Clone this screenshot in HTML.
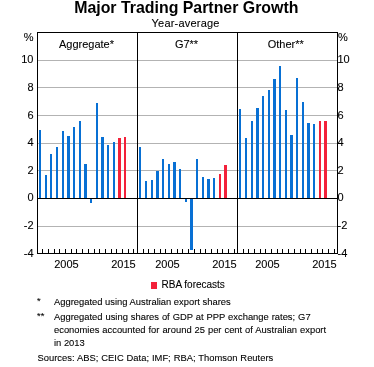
<!DOCTYPE html>
<html><head><meta charset="utf-8"><style>
html,body{margin:0;padding:0;background:#fff;width:374px;height:367px;overflow:hidden}
svg{position:absolute;left:0;top:0;display:block;will-change:transform}
text{font-family:"Liberation Sans", sans-serif;fill:#000}
text.r{stroke:#000;stroke-width:0.1px}
</style></head><body>
<svg width="374" height="367" viewBox="0 0 374 367">
<g shape-rendering="crispEdges">
<rect x="38.00" y="60.00" width="299.00" height="1.00" fill="#b3b3b3"/>
<rect x="38.00" y="87.00" width="299.00" height="1.00" fill="#b3b3b3"/>
<rect x="38.00" y="115.00" width="299.00" height="1.00" fill="#b3b3b3"/>
<rect x="38.00" y="143.00" width="299.00" height="1.00" fill="#b3b3b3"/>
<rect x="38.00" y="170.00" width="299.00" height="1.00" fill="#b3b3b3"/>
<rect x="38.00" y="226.00" width="299.00" height="1.00" fill="#b3b3b3"/>
<rect x="39.00" y="129.64" width="2.00" height="68.36" fill="#0870d4"/>
<rect x="45.00" y="174.90" width="2.00" height="23.10" fill="#0870d4"/>
<rect x="50.00" y="153.79" width="2.00" height="44.21" fill="#0870d4"/>
<rect x="56.00" y="147.03" width="2.00" height="50.97" fill="#0870d4"/>
<rect x="62.00" y="130.88" width="2.00" height="67.12" fill="#0870d4"/>
<rect x="67.00" y="135.85" width="3.00" height="62.15" fill="#0870d4"/>
<rect x="73.00" y="126.74" width="2.00" height="71.26" fill="#0870d4"/>
<rect x="79.00" y="120.67" width="2.00" height="77.33" fill="#0870d4"/>
<rect x="84.00" y="163.59" width="3.00" height="34.41" fill="#0870d4"/>
<rect x="90.00" y="199.00" width="2.00" height="3.92" fill="#0870d4"/>
<rect x="96.00" y="102.73" width="2.00" height="95.27" fill="#0870d4"/>
<rect x="101.00" y="136.81" width="3.00" height="61.19" fill="#0870d4"/>
<rect x="107.00" y="144.68" width="2.00" height="53.32" fill="#0870d4"/>
<rect x="113.00" y="141.92" width="2.00" height="56.08" fill="#0870d4"/>
<rect x="118.00" y="137.92" width="3.00" height="60.08" fill="#f3213a"/>
<rect x="124.00" y="136.81" width="2.00" height="61.19" fill="#f3213a"/>
<rect x="139.00" y="146.75" width="2.00" height="51.25" fill="#0870d4"/>
<rect x="145.00" y="180.84" width="2.00" height="17.16" fill="#0870d4"/>
<rect x="151.00" y="179.87" width="2.00" height="18.13" fill="#0870d4"/>
<rect x="156.00" y="170.90" width="3.00" height="27.10" fill="#0870d4"/>
<rect x="162.00" y="159.03" width="2.00" height="38.97" fill="#0870d4"/>
<rect x="168.00" y="164.00" width="2.00" height="34.00" fill="#0870d4"/>
<rect x="173.00" y="161.79" width="3.00" height="36.21" fill="#0870d4"/>
<rect x="179.00" y="168.97" width="2.00" height="29.03" fill="#0870d4"/>
<rect x="185.00" y="199.00" width="2.00" height="2.81" fill="#0870d4"/>
<rect x="190.00" y="199.00" width="3.00" height="50.84" fill="#0870d4"/>
<rect x="196.00" y="159.03" width="2.00" height="38.97" fill="#0870d4"/>
<rect x="202.00" y="176.83" width="2.00" height="21.17" fill="#0870d4"/>
<rect x="207.00" y="179.04" width="3.00" height="18.96" fill="#0870d4"/>
<rect x="213.00" y="177.94" width="2.00" height="20.06" fill="#0870d4"/>
<rect x="219.00" y="173.80" width="2.00" height="24.20" fill="#f3213a"/>
<rect x="224.00" y="164.97" width="3.00" height="33.03" fill="#f3213a"/>
<rect x="239.00" y="108.94" width="2.00" height="89.06" fill="#0870d4"/>
<rect x="245.00" y="138.06" width="2.00" height="59.94" fill="#0870d4"/>
<rect x="251.00" y="121.08" width="2.00" height="76.92" fill="#0870d4"/>
<rect x="256.00" y="108.11" width="3.00" height="89.89" fill="#0870d4"/>
<rect x="262.00" y="96.10" width="2.00" height="101.90" fill="#0870d4"/>
<rect x="268.00" y="90.03" width="2.00" height="107.97" fill="#0870d4"/>
<rect x="273.00" y="79.13" width="3.00" height="118.87" fill="#0870d4"/>
<rect x="279.00" y="66.02" width="2.00" height="131.98" fill="#0870d4"/>
<rect x="285.00" y="110.04" width="2.00" height="87.96" fill="#0870d4"/>
<rect x="290.00" y="135.16" width="3.00" height="62.84" fill="#0870d4"/>
<rect x="296.00" y="78.03" width="2.00" height="119.97" fill="#0870d4"/>
<rect x="302.00" y="102.04" width="2.00" height="95.96" fill="#0870d4"/>
<rect x="307.00" y="123.15" width="3.00" height="74.85" fill="#0870d4"/>
<rect x="313.00" y="124.12" width="2.00" height="73.88" fill="#0870d4"/>
<rect x="319.00" y="121.08" width="2.00" height="76.92" fill="#f3213a"/>
<rect x="324.00" y="121.08" width="3.00" height="76.92" fill="#f3213a"/>
<rect x="37.00" y="198.00" width="301.00" height="1.00" fill="#000"/>
<rect x="37.00" y="32.00" width="301.00" height="1.00" fill="#000"/>
<rect x="37.00" y="253.00" width="301.00" height="1.00" fill="#000"/>
<rect x="37.00" y="32.00" width="1.00" height="222.00" fill="#000"/>
<rect x="137.00" y="32.00" width="1.00" height="222.00" fill="#000"/>
<rect x="237.00" y="32.00" width="1.00" height="222.00" fill="#000"/>
<rect x="337.00" y="32.00" width="1.00" height="222.00" fill="#000"/>
<rect x="42.00" y="249.00" width="1.00" height="4.00" fill="#000"/>
<rect x="48.00" y="249.00" width="1.00" height="4.00" fill="#000"/>
<rect x="54.00" y="249.00" width="1.00" height="4.00" fill="#000"/>
<rect x="59.00" y="249.00" width="1.00" height="4.00" fill="#000"/>
<rect x="65.00" y="249.00" width="1.00" height="4.00" fill="#000"/>
<rect x="71.00" y="249.00" width="1.00" height="4.00" fill="#000"/>
<rect x="76.00" y="249.00" width="1.00" height="4.00" fill="#000"/>
<rect x="82.00" y="249.00" width="1.00" height="4.00" fill="#000"/>
<rect x="88.00" y="249.00" width="1.00" height="4.00" fill="#000"/>
<rect x="94.00" y="249.00" width="1.00" height="4.00" fill="#000"/>
<rect x="99.00" y="249.00" width="1.00" height="4.00" fill="#000"/>
<rect x="105.00" y="249.00" width="1.00" height="4.00" fill="#000"/>
<rect x="111.00" y="249.00" width="1.00" height="4.00" fill="#000"/>
<rect x="116.00" y="249.00" width="1.00" height="4.00" fill="#000"/>
<rect x="122.00" y="249.00" width="1.00" height="4.00" fill="#000"/>
<rect x="128.00" y="249.00" width="1.00" height="4.00" fill="#000"/>
<rect x="133.00" y="249.00" width="1.00" height="4.00" fill="#000"/>
<rect x="143.00" y="249.00" width="1.00" height="4.00" fill="#000"/>
<rect x="148.00" y="249.00" width="1.00" height="4.00" fill="#000"/>
<rect x="154.00" y="249.00" width="1.00" height="4.00" fill="#000"/>
<rect x="160.00" y="249.00" width="1.00" height="4.00" fill="#000"/>
<rect x="165.00" y="249.00" width="1.00" height="4.00" fill="#000"/>
<rect x="171.00" y="249.00" width="1.00" height="4.00" fill="#000"/>
<rect x="177.00" y="249.00" width="1.00" height="4.00" fill="#000"/>
<rect x="182.00" y="249.00" width="1.00" height="4.00" fill="#000"/>
<rect x="188.00" y="249.00" width="1.00" height="4.00" fill="#000"/>
<rect x="194.00" y="249.00" width="1.00" height="4.00" fill="#000"/>
<rect x="200.00" y="249.00" width="1.00" height="4.00" fill="#000"/>
<rect x="205.00" y="249.00" width="1.00" height="4.00" fill="#000"/>
<rect x="211.00" y="249.00" width="1.00" height="4.00" fill="#000"/>
<rect x="217.00" y="249.00" width="1.00" height="4.00" fill="#000"/>
<rect x="222.00" y="249.00" width="1.00" height="4.00" fill="#000"/>
<rect x="228.00" y="249.00" width="1.00" height="4.00" fill="#000"/>
<rect x="234.00" y="249.00" width="1.00" height="4.00" fill="#000"/>
<rect x="243.00" y="249.00" width="1.00" height="4.00" fill="#000"/>
<rect x="248.00" y="249.00" width="1.00" height="4.00" fill="#000"/>
<rect x="254.00" y="249.00" width="1.00" height="4.00" fill="#000"/>
<rect x="260.00" y="249.00" width="1.00" height="4.00" fill="#000"/>
<rect x="265.00" y="249.00" width="1.00" height="4.00" fill="#000"/>
<rect x="271.00" y="249.00" width="1.00" height="4.00" fill="#000"/>
<rect x="277.00" y="249.00" width="1.00" height="4.00" fill="#000"/>
<rect x="282.00" y="249.00" width="1.00" height="4.00" fill="#000"/>
<rect x="288.00" y="249.00" width="1.00" height="4.00" fill="#000"/>
<rect x="294.00" y="249.00" width="1.00" height="4.00" fill="#000"/>
<rect x="300.00" y="249.00" width="1.00" height="4.00" fill="#000"/>
<rect x="305.00" y="249.00" width="1.00" height="4.00" fill="#000"/>
<rect x="311.00" y="249.00" width="1.00" height="4.00" fill="#000"/>
<rect x="317.00" y="249.00" width="1.00" height="4.00" fill="#000"/>
<rect x="322.00" y="249.00" width="1.00" height="4.00" fill="#000"/>
<rect x="328.00" y="249.00" width="1.00" height="4.00" fill="#000"/>
<rect x="334.00" y="249.00" width="1.00" height="4.00" fill="#000"/>
<rect x="151" y="282" width="6" height="7" fill="#f3213a"/>
</g>
<text x="186.3" y="13" font-size="15.9" text-anchor="middle" font-weight="bold">Major Trading Partner Growth</text>
<text class="r" x="185.6" y="27" font-size="11" text-anchor="middle" font-weight="normal" letter-spacing="0.2">Year-average</text>
<text class="r" x="86.5" y="48" font-size="11" text-anchor="middle" font-weight="normal">Aggregate*</text>
<text class="r" x="186.5" y="48" font-size="11" text-anchor="middle" font-weight="normal">G7**</text>
<text class="r" x="285.7" y="48" font-size="11" text-anchor="middle" font-weight="normal">Other**</text>
<text class="r" x="33.5" y="41.0" font-size="11" text-anchor="end" font-weight="normal">%</text>
<text class="r" x="338" y="41.0" font-size="11" text-anchor="start" font-weight="normal">%</text>
<text class="r" x="33.5" y="62.5" font-size="11" text-anchor="end" font-weight="normal">10</text>
<text class="r" x="337.5" y="62.5" font-size="11" text-anchor="start" font-weight="normal">10</text>
<text class="r" x="33.5" y="90.5" font-size="11" text-anchor="end" font-weight="normal">8</text>
<text class="r" x="337.5" y="90.5" font-size="11" text-anchor="start" font-weight="normal">8</text>
<text class="r" x="33.5" y="118.5" font-size="11" text-anchor="end" font-weight="normal">6</text>
<text class="r" x="337.5" y="118.5" font-size="11" text-anchor="start" font-weight="normal">6</text>
<text class="r" x="33.5" y="145.5" font-size="11" text-anchor="end" font-weight="normal">4</text>
<text class="r" x="337.5" y="145.5" font-size="11" text-anchor="start" font-weight="normal">4</text>
<text class="r" x="33.5" y="173.5" font-size="11" text-anchor="end" font-weight="normal">2</text>
<text class="r" x="337.5" y="173.5" font-size="11" text-anchor="start" font-weight="normal">2</text>
<text class="r" x="33.5" y="200.5" font-size="11" text-anchor="end" font-weight="normal">0</text>
<text class="r" x="337.5" y="200.5" font-size="11" text-anchor="start" font-weight="normal">0</text>
<text class="r" x="33.5" y="228.5" font-size="11" text-anchor="end" font-weight="normal">-2</text>
<text class="r" x="337.5" y="228.5" font-size="11" text-anchor="start" font-weight="normal">-2</text>
<text class="r" x="33.5" y="256.5" font-size="11" text-anchor="end" font-weight="normal">-4</text>
<text class="r" x="337.5" y="256.5" font-size="11" text-anchor="start" font-weight="normal">-4</text>
<text class="r" x="66.5" y="268" font-size="11" text-anchor="middle" font-weight="normal">2005</text>
<text class="r" x="123.5" y="268" font-size="11" text-anchor="middle" font-weight="normal">2015</text>
<text class="r" x="167.5" y="268" font-size="11" text-anchor="middle" font-weight="normal">2005</text>
<text class="r" x="224.5" y="268" font-size="11" text-anchor="middle" font-weight="normal">2015</text>
<text class="r" x="267.5" y="268" font-size="11" text-anchor="middle" font-weight="normal">2005</text>
<text class="r" x="324.5" y="268" font-size="11" text-anchor="middle" font-weight="normal">2015</text>
<text class="r" x="161.5" y="288" font-size="10" text-anchor="start" font-weight="normal">RBA forecasts</text>
<text class="r" x="37" y="304" font-size="9.4" text-anchor="start" font-weight="normal">*</text>
<text class="r" x="54" y="305" font-size="9.4" text-anchor="start" font-weight="normal">Aggregated using Australian export shares</text>
<text class="r" x="37" y="319" font-size="9.4" text-anchor="start" font-weight="normal">**</text>
<text class="r" x="54" y="320" font-size="9.4" text-anchor="start" font-weight="normal" word-spacing="0.35">Aggregated using shares of GDP at PPP exchange rates; G7</text>
<text class="r" x="54" y="333" font-size="9.4" text-anchor="start" font-weight="normal" word-spacing="0.35">economies accounted for around 25 per cent of Australian export</text>
<text class="r" x="54" y="346" font-size="9.4" text-anchor="start" font-weight="normal">in 2013</text>
<text class="r" x="37.5" y="361" font-size="9.4" text-anchor="start" font-weight="normal" word-spacing="0.35">Sources: ABS; CEIC Data; IMF; RBA; Thomson Reuters</text>
</svg>
</body></html>
